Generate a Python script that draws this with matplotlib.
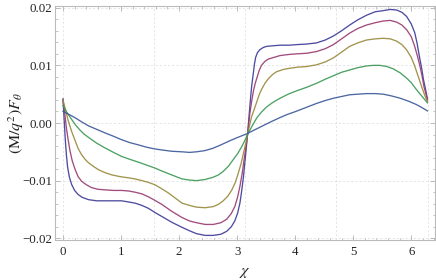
import numpy as np
import matplotlib
matplotlib.use("Agg")
import matplotlib.pyplot as plt
from matplotlib.ticker import MultipleLocator, FixedLocator, FuncFormatter

plt.rcParams['mathtext.fontset'] = 'stix'
plt.rcParams['font.family'] = ['Liberation Serif', 'DejaVu Serif']

# --- data ---
x1 = [0, 0.02, 0.04, 0.06, 0.08, 0.11, 0.15, 0.20, 0.26, 0.33, 0.44, 0.58, 0.72, 0.87, 1.01, 1.13, 1.24, 1.36, 1.47, 1.58, 1.70, 1.87, 2.05, 2.18, 2.30, 2.45, 2.59, 2.72, 2.82, 2.90, 2.96, 3.01, 3.05, 3.08, 3.11, 3.13, 3.15, 3.18, 3.21, 3.23, 3.25, 3.28, 3.30, 3.32, 3.35, 3.39, 3.45, 3.51, 3.62, 3.74, 3.90, 4.03, 4.20, 4.37, 4.52, 4.66, 4.80, 4.94, 5.08, 5.23, 5.38, 5.52, 5.64, 5.75, 5.84, 5.92, 6.00, 6.06, 6.10, 6.14, 6.18, 6.21, 6.25, 6.28]
y1 = [0.0042, 0.0005, -0.0030, -0.0057, -0.0077, -0.0094, -0.0107, -0.0117, -0.0124, -0.0129, -0.0133, -0.0135, -0.0135, -0.0135, -0.0135, -0.0137, -0.0139, -0.0143, -0.0148, -0.0155, -0.0162, -0.0172, -0.0181, -0.0187, -0.0192, -0.0195, -0.0195, -0.0193, -0.0188, -0.0180, -0.0170, -0.0156, -0.0138, -0.0117, -0.0093, -0.0072, -0.0052, -0.0020, 0.0017, 0.0041, 0.0063, 0.0087, 0.0103, 0.0114, 0.0122, 0.0127, 0.0131, 0.0133, 0.0134, 0.0135, 0.0135, 0.0136, 0.0137, 0.0139, 0.0144, 0.0151, 0.0160, 0.0170, 0.0179, 0.0187, 0.0193, 0.0195, 0.0197, 0.0196, 0.0192, 0.0185, 0.0172, 0.0157, 0.0139, 0.0116, 0.0095, 0.0076, 0.0057, 0.0041]

x2 = [0, 0.03, 0.06, 0.09, 0.12, 0.16, 0.21, 0.26, 0.32, 0.40, 0.49, 0.60, 0.72, 0.87, 1.01, 1.13, 1.24, 1.36, 1.47, 1.58, 1.70, 1.87, 2.05, 2.18, 2.30, 2.45, 2.59, 2.72, 2.82, 2.90, 2.96, 3.01, 3.05, 3.09, 3.12, 3.15, 3.18, 3.22, 3.25, 3.28, 3.31, 3.34, 3.38, 3.42, 3.48, 3.54, 3.64, 3.74, 3.90, 4.03, 4.20, 4.37, 4.52, 4.66, 4.80, 4.94, 5.08, 5.23, 5.38, 5.52, 5.64, 5.75, 5.84, 5.92, 6.00, 6.06, 6.11, 6.15, 6.19, 6.22, 6.25, 6.28]
y2 = [0.0040, 0.0017, -0.0010, -0.0030, -0.0048, -0.0066, -0.0081, -0.0093, -0.0101, -0.0107, -0.0112, -0.0115, -0.0116, -0.0117, -0.0117, -0.0118, -0.0120, -0.0123, -0.0128, -0.0134, -0.0141, -0.0153, -0.0164, -0.0170, -0.0173, -0.0176, -0.0176, -0.0173, -0.0167, -0.0157, -0.0145, -0.0128, -0.0109, -0.0086, -0.0064, -0.0043, -0.0020, 0.0017, 0.0037, 0.0055, 0.0068, 0.0078, 0.0091, 0.0100, 0.0107, 0.0111, 0.0114, 0.0117, 0.0119, 0.0120, 0.0121, 0.0124, 0.0129, 0.0136, 0.0146, 0.0156, 0.0164, 0.0170, 0.0174, 0.0177, 0.0178, 0.0175, 0.0170, 0.0162, 0.0150, 0.0133, 0.0115, 0.0099, 0.0080, 0.0063, 0.0052, 0.0040]

x3 = [0, 0.04, 0.09, 0.15, 0.21, 0.26, 0.32, 0.38, 0.44, 0.52, 0.61, 0.72, 0.84, 0.98, 1.12, 1.24, 1.36, 1.47, 1.58, 1.70, 1.81, 1.93, 2.05, 2.18, 2.30, 2.45, 2.59, 2.68, 2.76, 2.84, 2.91, 2.97, 3.02, 3.07, 3.11, 3.15, 3.18, 3.22, 3.25, 3.30, 3.34, 3.38, 3.42, 3.48, 3.54, 3.61, 3.68, 3.80, 3.91, 4.05, 4.20, 4.37, 4.52, 4.66, 4.80, 4.94, 5.08, 5.23, 5.38, 5.52, 5.64, 5.75, 5.84, 5.92, 6.00, 6.06, 6.12, 6.18, 6.23, 6.28]
y3 = [0.0040, 0.0024, 0.0004, -0.0015, -0.0031, -0.0044, -0.0055, -0.0063, -0.0069, -0.0075, -0.0081, -0.0086, -0.0090, -0.0093, -0.0095, -0.0097, -0.0100, -0.0103, -0.0107, -0.0114, -0.0121, -0.0130, -0.0139, -0.0143, -0.0146, -0.0147, -0.0145, -0.0141, -0.0135, -0.0127, -0.0116, -0.0103, -0.0087, -0.0070, -0.0052, -0.0035, -0.0020, -0.0002, 0.0011, 0.0025, 0.0037, 0.0049, 0.0058, 0.0069, 0.0077, 0.0084, 0.0089, 0.0093, 0.0095, 0.0097, 0.0098, 0.0101, 0.0106, 0.0113, 0.0123, 0.0133, 0.0139, 0.0144, 0.0146, 0.0147, 0.0146, 0.0142, 0.0136, 0.0127, 0.0114, 0.0099, 0.0081, 0.0063, 0.0049, 0.0037]

x4 = [0, 0.07, 0.15, 0.22, 0.29, 0.36, 0.44, 0.58, 0.72, 0.87, 1.01, 1.15, 1.30, 1.44, 1.58, 1.72, 1.87, 2.05, 2.18, 2.30, 2.45, 2.59, 2.68, 2.76, 2.85, 2.93, 3.01, 3.08, 3.13, 3.18, 3.26, 3.34, 3.42, 3.51, 3.62, 3.74, 3.88, 4.03, 4.20, 4.37, 4.52, 4.66, 4.80, 4.94, 5.08, 5.23, 5.35, 5.46, 5.58, 5.69, 5.81, 5.92, 6.00, 6.09, 6.18, 6.28]
y4 = [0.0030, 0.0018, 0.0006, -0.0004, -0.0012, -0.0019, -0.0025, -0.0035, -0.0043, -0.0051, -0.0058, -0.0063, -0.0068, -0.0073, -0.0078, -0.0084, -0.0090, -0.0097, -0.0099, -0.0100, -0.0098, -0.0094, -0.0090, -0.0084, -0.0075, -0.0064, -0.0053, -0.0041, -0.0031, -0.0020, -0.0005, 0.0009, 0.0019, 0.0028, 0.0036, 0.0043, 0.0050, 0.0056, 0.0062, 0.0069, 0.0076, 0.0082, 0.0088, 0.0092, 0.0096, 0.0099, 0.0100, 0.0100, 0.0098, 0.0094, 0.0087, 0.0078, 0.0070, 0.0058, 0.0047, 0.0035]

x5 = [0, 0.10, 0.21, 0.32, 0.44, 0.58, 0.72, 0.87, 1.01, 1.15, 1.30, 1.44, 1.58, 1.72, 1.87, 2.05, 2.18, 2.30, 2.44, 2.58, 2.72, 2.87, 3.01, 3.16, 3.30, 3.44, 3.58, 3.73, 3.87, 4.01, 4.19, 4.37, 4.52, 4.66, 4.80, 4.94, 5.08, 5.23, 5.38, 5.52, 5.66, 5.81, 5.95, 6.09, 6.18, 6.28]
y5 = [0.0020, 0.0015, 0.0009, 0.0002, -0.0005, -0.0011, -0.0017, -0.0023, -0.0029, -0.0034, -0.0038, -0.0042, -0.0045, -0.0047, -0.0049, -0.0050, -0.0051, -0.0050, -0.0048, -0.0044, -0.0038, -0.0031, -0.0025, -0.0019, -0.0012, -0.0005, 0.0002, 0.0009, 0.0015, 0.0020, 0.0027, 0.0034, 0.0039, 0.0043, 0.0046, 0.0049, 0.0050, 0.0051, 0.0051, 0.0050, 0.0047, 0.0043, 0.0038, 0.0032, 0.0027, 0.0021]

x_ticks = [0, 1, 2, 3, 4, 5, 6]
y_ticks = [-0.02, -0.01, 0.00, 0.01, 0.02]
x_grid = [0, np.pi / 2, np.pi, 3 * np.pi / 2, 2 * np.pi]

colors = [(0.2472, 0.24, 0.6), (0.6, 0.24, 0.4429), (0.6, 0.547, 0.24),
          (0.24, 0.6, 0.3369), (0.24, 0.3532, 0.6)]

fig = plt.figure(figsize=(4.36, 2.80), dpi=100)
ax = fig.add_axes([55 / 436, 1 - 240 / 280, (435 - 55) / 436, (240 - 6) / 280])

for g in x_grid:
    ax.axvline(g, color='#e0e0e0', lw=0.6, ls=(0, (2.5, 2.5)), zorder=0)
for g in y_ticks:
    ax.axhline(g, color='#e0e0e0', lw=0.6, ls=(0, (2.5, 2.5)), zorder=0)

for xs, ys, c in zip([x1, x2, x3, x4, x5], [y1, y2, y3, y4, y5], colors):
    ax.plot(xs, ys, color=c, lw=0.95, solid_joinstyle='round', alpha=0.92)

ax.set_xlim(-0.138, 6.41)
ax.set_ylim(-0.0203, 0.0203)

ax.xaxis.set_major_locator(FixedLocator(x_ticks))
ax.xaxis.set_minor_locator(MultipleLocator(0.2))
ax.yaxis.set_major_locator(FixedLocator(y_ticks))
ax.yaxis.set_minor_locator(MultipleLocator(0.002))
ax.yaxis.set_major_formatter(FuncFormatter(lambda v, p: ("%.2f" % v).replace('-', '\u2212') if abs(v) > 1e-9 else "0.00"))
ax.xaxis.set_major_formatter(FuncFormatter(lambda v, p: "%d" % round(v)))

for s in ax.spines.values():
    s.set_color('#bbbbbb')
    s.set_linewidth(0.8)
ax.tick_params(which='both', direction='in', top=True, right=True, color='#bbbbbb',
               labelsize=9.3, labelcolor='#222222')
ax.tick_params(which='major', length=3.5, width=0.7)
ax.tick_params(which='minor', length=1.8, width=0.6)
ax.tick_params(axis='y', pad=2)
ax.tick_params(axis='x', pad=4)

fig.text(16 / 436, 1 - 123 / 280, r'$(\mathrm{M}/q^2)F_\theta$', rotation=90,
         ha='center', va='center', fontsize=11.5, color='#222222')
fig.text(245 / 436, 1 - 272 / 280, r'$\chi$', ha='center', va='center',
         fontsize=11.5, color='#222222')

fig.savefig('out.png', dpi=100)
